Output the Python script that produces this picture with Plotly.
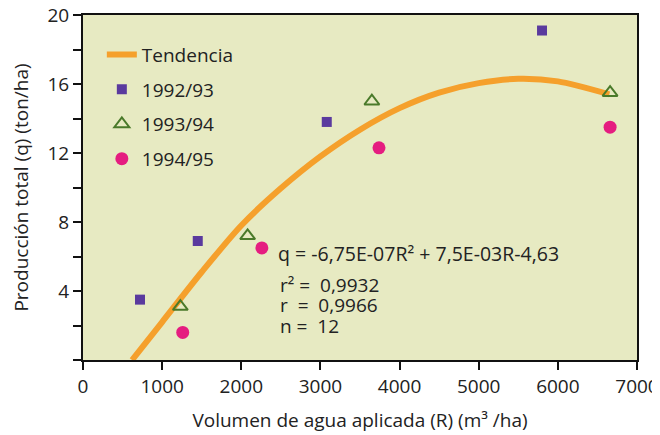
import plotly.graph_objects as go

# Data
r_9293 = [720, 1450, 3080, 5800]
q_9293 = [3.5, 6.9, 13.8, 19.1]

r_9394 = [1230, 2080, 3650, 6660]
q_9394 = [3.1, 7.2, 15.0, 15.5]

r_9495 = [1260, 2260, 3740, 6660]
q_9495 = [1.6, 6.5, 12.3, 13.5]

trend_r = [620, 1000, 1500, 2000, 2500, 3000, 3500, 4000, 4500, 5000, 5500, 6000, 6650]
trend_q = [0.0, 2.2, 5.1, 7.8, 9.95, 11.8, 13.35, 14.6, 15.5, 16.05, 16.3, 16.15, 15.4]

y_tickvals = [0, 2, 4, 6, 8, 10, 12, 14, 16, 18, 20]
y_ticktext = ["", "", "4", "", "8", "", "12", "", "16", "", "20"]
x_tickvals = [0, 1000, 2000, 3000, 4000, 5000, 6000, 7000]

FONT = "Open Sans"
TXT = "#222222"
NB = "\u00a0"

fig = go.Figure()
fig.add_trace(go.Scatter(x=trend_r, y=trend_q, mode="lines", name="Tendencia",
                         line=dict(color="#f5a02c", width=6, shape="spline", smoothing=0.8),
                         legendgroup="a"))
fig.add_trace(go.Scatter(x=r_9293, y=q_9293, mode="markers", name="1992/93",
                         marker=dict(symbol="square", size=10, color="#5a3a9e",
                                     line=dict(width=0)), legendgroup="b"))
fig.add_trace(go.Scatter(x=r_9394, y=q_9394, mode="markers", name="1993/94",
                         marker=dict(symbol="triangle-up-open", size=13, color="#4a7a2a",
                                     line=dict(width=2)), legendgroup="c"))
fig.add_trace(go.Scatter(x=r_9495, y=q_9495, mode="markers", name="1994/95",
                         marker=dict(symbol="circle", size=13, color="#e51d80",
                                     line=dict(width=0)), legendgroup="d"))

eq_font = dict(family=FONT, size=19.5, color=TXT)
st_font = dict(family=FONT, size=19, color=TXT)
annotations = [
    dict(x=2440, y=6.15, xref="x", yref="y", xanchor="left", yanchor="middle",
         text="q = -6,75E-07R² + 7,5E-03R-4,63", showarrow=False, font=eq_font),
    dict(x=2460, y=4.37, xref="x", yref="y", xanchor="left", yanchor="middle",
         text="r² =" + NB * 2 + "0,9932", showarrow=False, font=st_font),
    dict(x=2460, y=3.17, xref="x", yref="y", xanchor="left", yanchor="middle",
         text="r" + NB * 2 + "=" + NB * 2 + "0,9966", showarrow=False, font=st_font),
    dict(x=2460, y=1.95, xref="x", yref="y", xanchor="left", yanchor="middle",
         text="n =" + NB * 2 + "12", showarrow=False, font=st_font),
]

# The page body adds an 8px offset; margins are set so the plot lands where the reference has it.
fig.update_layout(
    width=660, height=435,
    margin=dict(l=75, r=31, t=7, b=83, autoexpand=False),
    paper_bgcolor="white",
    plot_bgcolor="#e7eac2",
    font=dict(family=FONT, size=19, color=TXT),
    showlegend=True,
    legend=dict(x=0.034, y=0.94, xanchor="left", yanchor="top",
                bgcolor="rgba(0,0,0,0)", font=dict(size=19, color=TXT),
                tracegroupgap=7, itemwidth=30),
    annotations=annotations,
    xaxis=dict(range=[0, 7000], tickvals=x_tickvals, showgrid=False, zeroline=False,
               showline=True, linecolor="#111", linewidth=2, mirror=True,
               ticks="outside", ticklen=8, tickwidth=2, tickcolor="#111",
               tickfont=dict(size=19, color=TXT), automargin=False,
               ticklabeloverflow="allow",
               title=dict(text="Volumen de agua aplicada (R) (m³ /ha)",
                          font=dict(size=19, color=TXT), standoff=16)),
    yaxis=dict(range=[0, 20], tickvals=y_tickvals, ticktext=y_ticktext, showgrid=False,
               zeroline=False, showline=True, linecolor="#111", linewidth=2, mirror=True,
               ticks="outside", ticklen=8, tickwidth=2, tickcolor="#111",
               tickfont=dict(size=19, color=TXT), automargin=False,
               ticklabeloverflow="allow",
               title=dict(text="Producción total (q) (ton/ha)",
                          font=dict(size=19, color=TXT), standoff=15)),
)

fig.write_html("out.html")
